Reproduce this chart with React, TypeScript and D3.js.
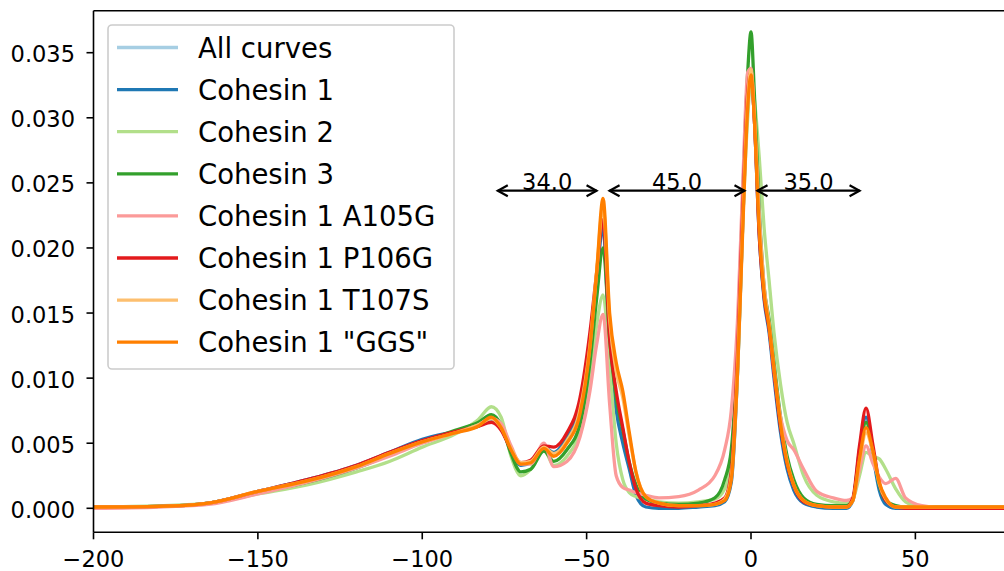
import React from "react";
import * as d3 from "d3";

// Shared x grid (residue offset)
const X = [-200, -180, -165, -150, -135, -120, -110, -100, -90, -83,
  -79, -76, -73, -70, -67, -63, -60, -56, -52, -49,
  -47, -45, -43, -41, -39, -37, -35, -32, -28, -22,
  -16, -11, -8, -6, -4, -2.5, -1, 0, 1, 2.5,
  4, 5.5, 7, 9, 11, 13, 16, 20, 25, 29,
  31, 33, 35, 37, 39, 41, 44, 47, 52, 60, 80];

const COHESIN_1 = [0.0001, 0.00015, 0.0004, 0.0013, 0.0022, 0.0033, 0.0043, 0.0053, 0.0059, 0.0063,
  0.0068, 0.0061, 0.0045, 0.0033, 0.0035, 0.0047, 0.0043, 0.0055, 0.0080, 0.0130,
  0.0175, 0.0215, 0.0120, 0.0075, 0.0050, 0.0030, 0.0010, 0.0001, 0.0000, 0.0000,
  0.0001, 0.0002, 0.0005, 0.0020, 0.0110, 0.0220, 0.0315, 0.0335, 0.0300, 0.0210,
  0.0160, 0.0135, 0.0100, 0.0058, 0.0030, 0.0014, 0.0004, 0.0001, 0.0000, 0.0000,
  0.0006, 0.0045, 0.0070, 0.0042, 0.0014, 0.0003, 0.0000, 0.0000, 0.0000, 0.0000, 0.0000];

const COHESIN_2 = [0.0001, 0.0002, 0.0004, 0.0011, 0.0018, 0.0028, 0.0036, 0.0047, 0.0057, 0.0068,
  0.0078, 0.0070, 0.0040, 0.0025, 0.0030, 0.0045, 0.0033, 0.0040, 0.0060, 0.0100,
  0.0140, 0.0164, 0.0110, 0.0050, 0.0022, 0.0012, 0.0009, 0.0007, 0.0005, 0.0004,
  0.0005, 0.0007, 0.0015, 0.0035, 0.0110, 0.0220, 0.0300, 0.0330, 0.0315, 0.0270,
  0.0215, 0.0175, 0.0135, 0.0095, 0.0066, 0.0050, 0.0025, 0.0010, 0.0005, 0.0004,
  0.0007, 0.0025, 0.0043, 0.0040, 0.0038, 0.0030, 0.0015, 0.0005, 0.0001, 0.0001, 0.0001];

const COHESIN_3 = [0.0001, 0.00015, 0.0004, 0.0012, 0.0020, 0.0031, 0.0041, 0.0051, 0.0060, 0.0066,
  0.0072, 0.0064, 0.0042, 0.0028, 0.0030, 0.0044, 0.0036, 0.0045, 0.0065, 0.0112,
  0.0160, 0.0200, 0.0130, 0.0085, 0.0060, 0.0035, 0.0018, 0.0007, 0.0004, 0.0003,
  0.0004, 0.0008, 0.0022, 0.0045, 0.0130, 0.0240, 0.0335, 0.0366, 0.0320, 0.0230,
  0.0170, 0.0145, 0.0112, 0.0070, 0.0040, 0.0022, 0.0008, 0.0003, 0.0002, 0.0002,
  0.0007, 0.0042, 0.0066, 0.0045, 0.0018, 0.0006, 0.0002, 0.0001, 0.0001, 0.0001, 0.0001];

const COHESIN_1_A105G = [0.0000, 0.0001, 0.0003, 0.0011, 0.0020, 0.0031, 0.0040, 0.0050, 0.0058, 0.0064,
  0.0069, 0.0065, 0.0048, 0.0034, 0.0034, 0.0050, 0.0032, 0.0036, 0.0055, 0.0090,
  0.0125, 0.0149, 0.0080, 0.0025, 0.0016, 0.0014, 0.0012, 0.0010, 0.0008, 0.0009,
  0.0014, 0.0025, 0.0045, 0.0075, 0.0150, 0.0250, 0.0335, 0.0338, 0.0300, 0.0225,
  0.0170, 0.0140, 0.0105, 0.0070, 0.0052, 0.0045, 0.0030, 0.0013, 0.0008, 0.0006,
  0.0008, 0.0030, 0.0048, 0.0035, 0.0024, 0.0019, 0.0023, 0.0008, 0.0002, 0.0000, 0.0000];

const COHESIN_1_P106G = [0.0001, 0.00015, 0.0004, 0.0013, 0.0022, 0.0033, 0.0043, 0.0052, 0.0059, 0.0063,
  0.0066, 0.0060, 0.0045, 0.0035, 0.0037, 0.0048, 0.0047, 0.0058, 0.0085, 0.0135,
  0.0180, 0.0222, 0.0130, 0.0090, 0.0062, 0.0035, 0.0015, 0.0004, 0.0002, 0.0001,
  0.0002, 0.0004, 0.0008, 0.0028, 0.0125, 0.0230, 0.0320, 0.0335, 0.0300, 0.0210,
  0.0162, 0.0138, 0.0104, 0.0062, 0.0034, 0.0017, 0.0005, 0.0002, 0.0001, 0.0001,
  0.0008, 0.0048, 0.0077, 0.0050, 0.0020, 0.0006, 0.0001, 0.0000, 0.0000, 0.0000, 0.0000];

const COHESIN_1_T107S = [0.0001, 0.00015, 0.0004, 0.0013, 0.0021, 0.0032, 0.0042, 0.0051, 0.0058, 0.0064,
  0.0069, 0.0062, 0.0046, 0.0035, 0.0036, 0.0047, 0.0042, 0.0052, 0.0076, 0.0125,
  0.0180, 0.0232, 0.0145, 0.0105, 0.0085, 0.0055, 0.0028, 0.0009, 0.0004, 0.0002,
  0.0002, 0.0003, 0.0007, 0.0024, 0.0115, 0.0220, 0.0315, 0.0337, 0.0305, 0.0220,
  0.0168, 0.0142, 0.0108, 0.0066, 0.0036, 0.0018, 0.0006, 0.0002, 0.0001, 0.0001,
  0.0006, 0.0036, 0.0058, 0.0044, 0.0019, 0.0007, 0.0001, 0.0001, 0.0001, 0.0001, 0.0001];

const COHESIN_1_GGS = [0.0001, 0.00015, 0.0004, 0.0013, 0.0021, 0.0032, 0.0042, 0.0051, 0.0058, 0.0063,
  0.0070, 0.0062, 0.0045, 0.0034, 0.0035, 0.0046, 0.0040, 0.0050, 0.0073, 0.0123,
  0.0180, 0.0238, 0.0150, 0.0112, 0.0090, 0.0058, 0.0028, 0.0009, 0.0004, 0.0002,
  0.0002, 0.0003, 0.0006, 0.0022, 0.0110, 0.0215, 0.0308, 0.0333, 0.0300, 0.0215,
  0.0165, 0.0140, 0.0108, 0.0065, 0.0035, 0.0018, 0.0006, 0.0002, 0.0001, 0.0001,
  0.0006, 0.0038, 0.0062, 0.0045, 0.0020, 0.0008, 0.0001, 0.0001, 0.0001, 0.0001, 0.0001];

const LEGEND_LABELS = ["All curves", "Cohesin 1", "Cohesin 2", "Cohesin 3",
  "Cohesin 1 A105G", "Cohesin 1 P106G", "Cohesin 1 T107S", 'Cohesin 1 "GGS"'];
const COLORS = ["#a6cee3", "#1f78b4", "#b2df8a", "#33a02c", "#fb9a99", "#e31a1c", "#fdbf6f", "#ff7f00"];
// "All curves" has no visible trace; it appears only in the legend
const SERIES: (number[] | null)[] = [null, COHESIN_1, COHESIN_2, COHESIN_3,
  COHESIN_1_A105G, COHESIN_1_P106G, COHESIN_1_T107S, COHESIN_1_GGS];

const X_TICKS = [-200, -150, -100, -50, 0, 50];
const Y_TICKS = [0, 0.005, 0.01, 0.015, 0.02, 0.025, 0.03, 0.035];

const ANN_FROM = [-79, -45, 0];
const ANN_TO = [-45, 0, 35];
const ANN_LABELS = ["34.0", "45.0", "35.0"];
const ANN_Y = 0.0244;

const W = 1004, H = 571;
const LEFT = 93.5, TOP = 10.7, BOTTOM = 532.3;
const X_MIN = -200, X_MAX = 80;
const PX_PER_UNIT = (751 - LEFT) / 200;
const RIGHT = LEFT + (X_MAX - X_MIN) * PX_PER_UNIT;
const Y_PER_UNIT = (508.3 - 52.7) / 0.035;
const Y_MIN = -(BOTTOM - 508.3) / Y_PER_UNIT;
const Y_MAX = (508.3 - TOP) / Y_PER_UNIT;

const FONT = "DejaVu Sans, sans-serif";

export default function App() {
  const xs = d3.scaleLinear().domain([X_MIN, X_MAX]).range([LEFT, RIGHT]);
  const ys = d3.scaleLinear().domain([Y_MIN, Y_MAX]).range([BOTTOM, TOP]);
  const line = d3.line<number>()
    .x((_, i) => xs(X[i]))
    .y((d) => ys(d))
    .curve(d3.curveMonotoneX);

  const fmtY = d3.format(".3f");
  const fmtX = (v: number) => (v < 0 ? "\u2212" + Math.abs(v) : String(v));

  const legX = 108, legY = 25, legW = 346, legH = 344;
  const rowY = (i: number) => 47.5 + i * 42.1;

  const shrink = 6.5;
  const ay = ys(ANN_Y);

  return (
    <div style={{ position: "absolute", left: 0, top: 0 }}>
      <svg width={W} height={H} style={{ display: "block", background: "#fff" }}>
        <defs>
          <clipPath id="plot">
            <rect x={LEFT} y={TOP} width={RIGHT - LEFT} height={BOTTOM - TOP} />
          </clipPath>
        </defs>
        <rect x={0} y={0} width={W} height={H} fill="#fff" />
        <g clipPath="url(#plot)">
          {SERIES.map((s, i) =>
            s ? (
              <path key={i} d={line(s) || ""} fill="none" stroke={COLORS[i]}
                strokeWidth={3.3} strokeLinejoin="round" strokeLinecap="round" />
            ) : null
          )}
        </g>
        {/* annotations */}
        {ANN_FROM.map((a, i) => {
          const x1 = xs(a) + shrink;
          const x2 = xs(ANN_TO[i]) - shrink;
          const hl = 10, hw = 5.5;
          return (
            <g key={i} stroke="#000" strokeWidth={2.2} fill="none">
              <line x1={x1} y1={ay} x2={x2} y2={ay} />
              <path d={`M${x1 + hl},${ay - hw} L${x1},${ay} L${x1 + hl},${ay + hw}`} />
              <path d={`M${x2 - hl},${ay - hw} L${x2},${ay} L${x2 - hl},${ay + hw}`} />
              <text x={(x1 + x2) / 2} y={ay - 0.5} textAnchor="middle" fontFamily={FONT}
                fontSize={22.5} fill="#000" stroke="none">{ANN_LABELS[i]}</text>
            </g>
          );
        })}
        {/* spines */}
        <g stroke="#000" strokeWidth={1.6} fill="none">
          <line x1={LEFT} y1={TOP} x2={LEFT} y2={BOTTOM} />
          <line x1={LEFT} y1={BOTTOM} x2={RIGHT} y2={BOTTOM} />
          <line x1={LEFT} y1={TOP} x2={RIGHT} y2={TOP} />
          <line x1={RIGHT} y1={TOP} x2={RIGHT} y2={BOTTOM} />
        </g>
        {/* x ticks */}
        {X_TICKS.map((t) => (
          <g key={t}>
            <line x1={xs(t)} x2={xs(t)} y1={BOTTOM} y2={BOTTOM + 7} stroke="#000" strokeWidth={1.6} />
            <text x={xs(t)} y={566.5} textAnchor="middle" fontFamily={FONT} fontSize={22.5} fill="#000">{fmtX(t)}</text>
          </g>
        ))}
        {/* y ticks */}
        {Y_TICKS.map((t) => (
          <g key={t}>
            <line x1={LEFT - 7} x2={LEFT} y1={ys(t)} y2={ys(t)} stroke="#000" strokeWidth={1.6} />
            <text x={75} y={ys(t) + 9.5} textAnchor="end" fontFamily={FONT} fontSize={22.5} fill="#000">{fmtY(t)}</text>
          </g>
        ))}
        {/* legend */}
        <rect x={legX} y={legY} width={legW} height={legH} rx={4} fill="#fff" fillOpacity={0.8}
          stroke="#cccccc" strokeWidth={1.6} />
        {LEGEND_LABELS.map((lab, i) => (
          <g key={lab}>
            <line x1={117} x2={178} y1={rowY(i)} y2={rowY(i)} stroke={COLORS[i]} strokeWidth={3.3} />
            <text x={198} y={rowY(i) + 10} fontFamily={FONT} fontSize={27.5} fill="#000">{lab}</text>
          </g>
        ))}
      </svg>
    </div>
  );
}
